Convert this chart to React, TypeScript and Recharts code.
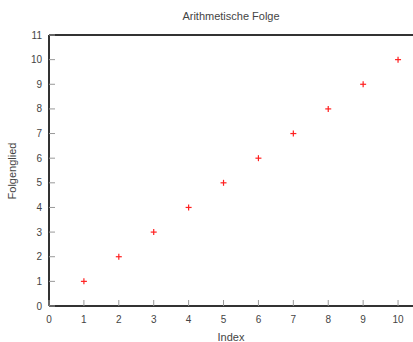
import { ScatterChart, Scatter, XAxis, YAxis } from 'recharts';

const indices = [1, 2, 3, 4, 5, 6, 7, 8, 9, 10];
const terms = [1, 2, 3, 4, 5, 6, 7, 8, 9, 10];
const xTicks = [0, 1, 2, 3, 4, 5, 6, 7, 8, 9, 10];
const yTicks = [0, 1, 2, 3, 4, 5, 6, 7, 8, 9, 10, 11];

const data = indices.map((x, i) => ({ x, y: terms[i] }));

const FONT = '"Liberation Sans", Arial, sans-serif';
const TICK_COLOR = '#999';
const LABEL_COLOR = '#444';
const BORDER = { stroke: '#333', strokeWidth: 2 };

const BottomTick = (props: any) => {
  const { x, y, payload } = props;
  return (
    <g>
      <line x1={x} y1={y} x2={x} y2={y - 6} stroke={TICK_COLOR} />
      <text x={x} y={y + 17} textAnchor="middle" fontSize={10} fontFamily={FONT} fill={LABEL_COLOR}>
        {payload.value}
      </text>
    </g>
  );
};

const TopTick = (props: any) => {
  const { x, y } = props;
  return <line x1={x} y1={y} x2={x} y2={y + 6} stroke={TICK_COLOR} />;
};

const LeftTick = (props: any) => {
  const { x, y, payload } = props;
  return (
    <g>
      <line x1={x} y1={y} x2={x + 6} y2={y} stroke={TICK_COLOR} />
      <text x={x - 7} y={y + 3.5} textAnchor="end" fontSize={10} fontFamily={FONT} fill={LABEL_COLOR}>
        {payload.value}
      </text>
    </g>
  );
};

const RightTick = (props: any) => {
  const { x, y } = props;
  return <line x1={x} y1={y} x2={x - 6} y2={y} stroke={TICK_COLOR} />;
};

const PlusMark = (props: any) => {
  const { cx, cy } = props;
  return (
    <g stroke="#ff2020" strokeWidth={1.2}>
      <line x1={cx - 3} y1={cy} x2={cx + 3} y2={cy} />
      <line x1={cx} y1={cy - 3} x2={cx} y2={cy + 3} />
    </g>
  );
};

export default function App() {
  return (
    <div style={{ position: 'absolute', left: 0, top: 0, width: 413, height: 342, overflow: 'hidden', background: '#fff' }}>
      <ScatterChart width={425} height={342} margin={{ top: 34, right: 8.5, bottom: 35, left: 48 }}>
        <XAxis
          xAxisId="bottom"
          orientation="bottom"
          dataKey="x"
          type="number"
          domain={[0, 10.5]}
          ticks={xTicks}
          height={1}
          tickSize={0}
          tickMargin={0}
          axisLine={BORDER}
          tick={BottomTick}
          interval={0}
        />
        <XAxis
          xAxisId="top"
          orientation="top"
          dataKey="x"
          type="number"
          domain={[0, 10.5]}
          ticks={xTicks}
          height={1}
          tickSize={0}
          tickMargin={0}
          axisLine={BORDER}
          tick={TopTick}
          interval={0}
        />
        <YAxis
          yAxisId="left"
          orientation="left"
          dataKey="y"
          type="number"
          domain={[0, 11]}
          ticks={yTicks}
          width={1}
          tickSize={0}
          tickMargin={0}
          axisLine={BORDER}
          tick={LeftTick}
          interval={0}
        />
        <YAxis
          yAxisId="right"
          orientation="right"
          dataKey="y"
          type="number"
          domain={[0, 11]}
          ticks={yTicks}
          width={1}
          tickSize={0}
          tickMargin={0}
          axisLine={BORDER}
          tick={RightTick}
          interval={0}
        />
        <Scatter xAxisId="bottom" yAxisId="left" data={data} shape={PlusMark} isAnimationActive={false} />
      </ScatterChart>
      <svg width={413} height={342} style={{ position: 'absolute', left: 0, top: 0, pointerEvents: 'none' }}>
        <text x={231} y={20} textAnchor="middle" fontSize={11} fontFamily={FONT} fill={LABEL_COLOR}>
          Arithmetische Folge
        </text>
        <text x={231} y={341} textAnchor="middle" fontSize={11} fontFamily={FONT} fill={LABEL_COLOR}>
          Index
        </text>
        <text
          x={16}
          y={171}
          textAnchor="middle"
          fontSize={11}
          fontFamily={FONT}
          fill={LABEL_COLOR}
          transform="rotate(-90, 16, 171)"
        >
          Folgenglied
        </text>
      </svg>
    </div>
  );
}
